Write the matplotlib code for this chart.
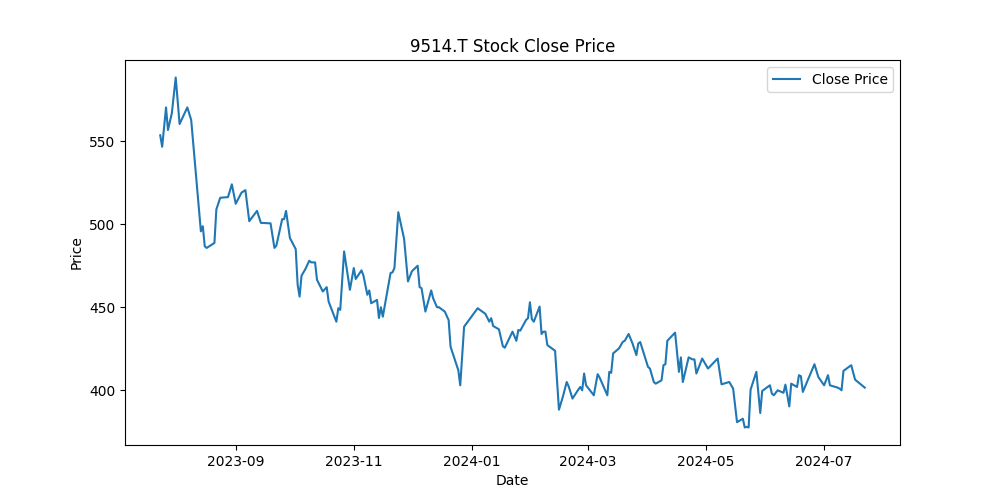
import pandas as pd
import matplotlib
matplotlib.use("Agg")
import matplotlib.pyplot as plt

# 9514.T close prices
dates = [
    "2023-07-24", "2023-07-25", "2023-07-27", "2023-07-28", "2023-07-30", "2023-08-01",
    "2023-08-03", "2023-08-07", "2023-08-09", "2023-08-14", "2023-08-15", "2023-08-16",
    "2023-08-17", "2023-08-21", "2023-08-22", "2023-08-24", "2023-08-28", "2023-08-30",
    "2023-09-01", "2023-09-04", "2023-09-06", "2023-09-08", "2023-09-12", "2023-09-14",
    "2023-09-19", "2023-09-21", "2023-09-22", "2023-09-25", "2023-09-26", "2023-09-27",
    "2023-09-29", "2023-10-02", "2023-10-03", "2023-10-04", "2023-10-05", "2023-10-07",
    "2023-10-09", "2023-10-10", "2023-10-12", "2023-10-13", "2023-10-16", "2023-10-18",
    "2023-10-19", "2023-10-23", "2023-10-24", "2023-10-25", "2023-10-27", "2023-10-30",
    "2023-11-01", "2023-11-02", "2023-11-05", "2023-11-06", "2023-11-08", "2023-11-09",
    "2023-11-10", "2023-11-13", "2023-11-14", "2023-11-15", "2023-11-16", "2023-11-20",
    "2023-11-21", "2023-11-22", "2023-11-24", "2023-11-27", "2023-11-29", "2023-12-01",
    "2023-12-04", "2023-12-05", "2023-12-06", "2023-12-08", "2023-12-11", "2023-12-12",
    "2023-12-14", "2023-12-15", "2023-12-18", "2023-12-20", "2023-12-21", "2023-12-25",
    "2023-12-26", "2023-12-28", "2024-01-04", "2024-01-08", "2024-01-10", "2024-01-11",
    "2024-01-12", "2024-01-15", "2024-01-17", "2024-01-18", "2024-01-22", "2024-01-24",
    "2024-01-25", "2024-01-26", "2024-01-29", "2024-01-30", "2024-01-31", "2024-02-01",
    "2024-02-02", "2024-02-05", "2024-02-06", "2024-02-07", "2024-02-08", "2024-02-09",
    "2024-02-13", "2024-02-15", "2024-02-17", "2024-02-19", "2024-02-20", "2024-02-22",
    "2024-02-25", "2024-02-26", "2024-02-27", "2024-02-28", "2024-02-29", "2024-03-04",
    "2024-03-06", "2024-03-07", "2024-03-11", "2024-03-12", "2024-03-13", "2024-03-14",
    "2024-03-17", "2024-03-19", "2024-03-20", "2024-03-22", "2024-03-24", "2024-03-26",
    "2024-03-27", "2024-03-28", "2024-04-01", "2024-04-02", "2024-04-04", "2024-04-05",
    "2024-04-08", "2024-04-09", "2024-04-10", "2024-04-11", "2024-04-15", "2024-04-17",
    "2024-04-18", "2024-04-19", "2024-04-22", "2024-04-24", "2024-04-25", "2024-04-26",
    "2024-04-29", "2024-05-02", "2024-05-07", "2024-05-09", "2024-05-13", "2024-05-15",
    "2024-05-17", "2024-05-20", "2024-05-21", "2024-05-22", "2024-05-23", "2024-05-24",
    "2024-05-27", "2024-05-29", "2024-05-30", "2024-06-03", "2024-06-04", "2024-06-05",
    "2024-06-07", "2024-06-09", "2024-06-10", "2024-06-11", "2024-06-13", "2024-06-14",
    "2024-06-17", "2024-06-18", "2024-06-19", "2024-06-20", "2024-06-24", "2024-06-26",
    "2024-06-28", "2024-07-01", "2024-07-03", "2024-07-04", "2024-07-08", "2024-07-09",
    "2024-07-10", "2024-07-11", "2024-07-15", "2024-07-17", "2024-07-22",
]
close = [
    553.5, 546.6, 570.3, 556.7, 566.8, 588.3,
    560.3, 570.3, 562.7, 495.7, 498.8, 486.7,
    485.7, 488.7, 508.9, 515.9, 516.3, 524.0,
    512.3, 519.0, 520.5, 501.8, 508.0, 500.8,
    500.5, 485.7, 487.1, 503.0, 503.0, 508.0,
    491.7, 485.0, 463.5, 456.4, 469.0, 473.0,
    478.0, 477.0, 477.0, 466.5, 459.5, 462.1,
    453.4, 441.3, 449.4, 448.4, 483.6, 460.5,
    473.6, 467.0, 472.2, 469.0, 457.5, 460.1,
    452.4, 454.4, 443.5, 450.0, 444.3, 470.6,
    471.0, 473.6, 507.2, 491.1, 465.5, 471.6,
    475.0, 462.1, 461.5, 447.4, 460.1, 455.4,
    450.0, 450.0, 447.4, 442.3, 426.2, 412.1,
    403.0, 438.3, 449.4, 446.0, 441.3, 443.4,
    438.7, 436.7, 426.6, 425.6, 435.3, 429.8,
    436.3, 435.9, 442.3, 443.4, 453.0, 442.8,
    441.3, 450.4, 433.9, 435.3, 435.3, 427.2,
    423.8, 388.3, 396.0, 405.0, 402.4, 395.0,
    400.4, 402.0, 400.0, 410.1, 403.0, 397.0,
    409.7, 407.7, 397.0, 411.1, 410.5, 422.2,
    425.2, 429.2, 429.8, 433.9, 428.2, 421.2,
    428.2, 429.0, 414.1, 413.1, 405.0, 404.0,
    406.0, 415.1, 415.7, 429.8, 434.7, 411.1,
    419.8, 405.0, 419.8, 418.6, 418.6, 410.1,
    419.1, 413.1, 419.1, 403.6, 405.0, 401.0,
    380.8, 382.9, 377.6, 378.0, 377.6, 400.4,
    411.1, 386.3, 399.6, 403.0, 398.0, 397.0,
    400.0, 399.0, 398.5, 403.4, 390.3, 404.0,
    402.0, 409.1, 408.5, 399.0, 410.1, 415.7,
    408.0, 403.0, 409.1, 403.0, 401.6, 401.0,
    400.0, 411.7, 415.1, 406.4, 401.6,
]

df = pd.DataFrame({"Date": pd.to_datetime(dates), "Close": close})

fig, ax = plt.subplots(figsize=(10, 5), dpi=100)
ax.plot(df["Date"], df["Close"], label="Close Price")
ax.set_title("9514.T Stock Close Price")
ax.set_xlabel("Date")
ax.set_ylabel("Price")
ax.legend()
fig.savefig("out.png")
